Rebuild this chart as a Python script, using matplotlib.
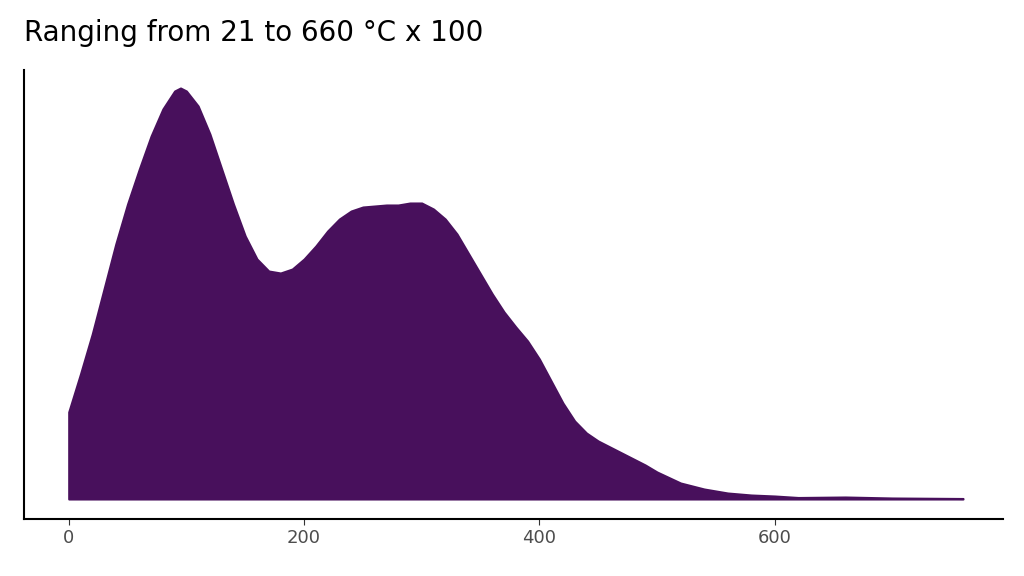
import matplotlib.pyplot as plt

# temperature (x100) and density height
temp = [0, 10, 20, 30, 40, 50, 60, 70, 80, 90, 95, 100, 110, 120, 130, 140, 150, 160, 170, 180,
        190, 200, 210, 220, 230, 240, 250, 260, 270, 280, 290, 300, 310, 320, 330, 340, 350, 360,
        370, 380, 390, 400, 410, 420, 430, 440, 450, 460, 470, 480, 490, 500, 520, 540, 560, 580,
        600, 620, 660, 700, 760]
dens = [87, 125, 165, 210, 255, 295, 330, 363, 390, 408, 411, 408, 393, 365, 330, 295, 263, 240, 228, 226,
        230, 240, 253, 268, 280, 288, 292, 293, 294, 294, 296, 296, 290, 280, 265, 245, 225, 205,
        187, 172, 158, 140, 118, 96, 78, 66, 58, 52, 46, 40, 34, 27, 16, 10, 6, 4,
        3, 1.5, 2, 1, 0.5]
xticks = [0, 200, 400, 600]

fig = plt.figure(figsize=(10.24, 5.76), dpi=100)
ax = fig.add_axes([24 / 1024, 1 - 519 / 576, (1003 - 24) / 1024, (519 - 70) / 576])
ax.fill_between(temp, 0, dens, color='#48105C', linewidth=1.5, edgecolor='#48105C')
ax.set_xlim(-38, 794)
ax.set_ylim(-20, 429)
ax.set_xticks(xticks)
ax.set_yticks([])
ax.tick_params(axis='x', colors='#4d4d4d', labelsize=13, length=4)
ax.tick_params(axis='x', color='#333333')
for s in ['top', 'right']:
    ax.spines[s].set_visible(False)
for s in ['left', 'bottom']:
    ax.spines[s].set_linewidth(1.5)
fig.text(24 / 1024, 1 - 33 / 576, 'Ranging from 21 to 660 °C x 100', fontsize=20, va='center', ha='left')
fig.savefig('out.png')
